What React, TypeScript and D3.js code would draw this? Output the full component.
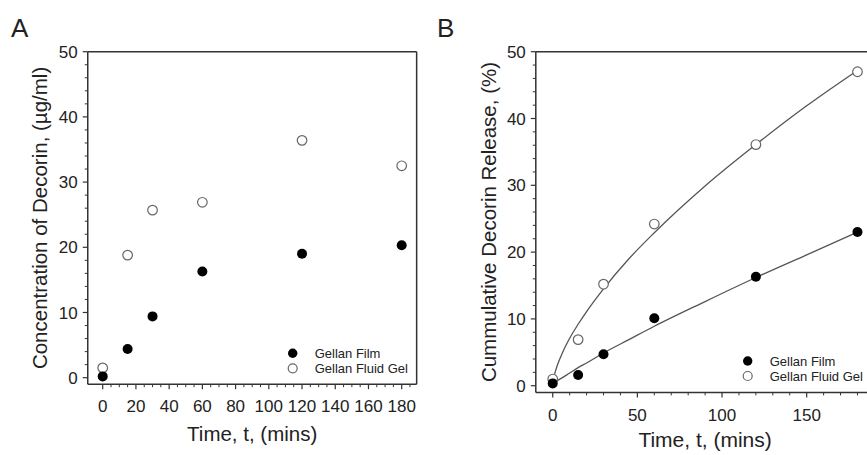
import React from "react";
import * as d3 from "d3";

// ---- Data ----
const timesA = [0, 15, 30, 60, 120, 180];
const filmConcA = [0.2, 4.4, 9.4, 16.3, 19.0, 20.3];
const gelConcA = [1.5, 18.8, 25.7, 26.9, 36.4, 32.5];

const timesB = [0, 15, 30, 60, 120, 180];
const filmRelB = [0.35, 1.6, 4.7, 10.1, 16.3, 23.0];
const gelRelB = [1.0, 6.9, 15.2, 24.2, 36.1, 47.0];

// fitted curves
const fitTimes = [0, 1, 2, 5, 10, 15, 20, 30, 45, 60, 90, 120, 150, 180];
const fitFilm = [0.3, 0.5, 0.65, 1.1, 1.9, 2.7, 3.4, 4.9, 6.9, 8.9, 12.6, 16.2, 19.6, 23.0];
const fitGel = [0.3, 1.6, 2.5, 4.5, 7.1, 9.2, 11.1, 14.5, 19.0, 22.9, 29.9, 36.1, 41.9, 47.2];

const xTicksA = [0, 20, 40, 60, 80, 100, 120, 140, 160, 180];
const xTicksB = [0, 50, 100, 150];
const yTicks = [0, 10, 20, 30, 40, 50];
const legendLabels = ["Gellan Film", "Gellan Fluid Gel"];

const FONT = "'Liberation Sans', Arial, Helvetica, sans-serif";
const TXT = "#222";
const AX = "#333";

type PanelProps = {
  letter: string;
  letterX: number;
  xDomain: [number, number];
  xRange: [number, number];
  yRange: [number, number];
  xTicks: number[];
  xMinorStep: number;
  xMinorMax: number;
  times: number[];
  film: number[];
  gel: number[];
  yTitle: string;
  yTitleX: number;
  xTitleY: number;
  xTitleSize: number;
  xLabelY: number;
  legendX: number;
  legendY: number;
  fit?: boolean;
  rightBorder: boolean;
};

function Panel(p: PanelProps) {
  const x = d3.scaleLinear().domain(p.xDomain).range(p.xRange);
  const y = d3.scaleLinear().domain([-1, 50]).range(p.yRange);
  const [x0, x1] = p.xRange;
  const [yb, yt] = p.yRange;
  const yMinor = d3.range(0, 50.001, 2).filter((v) => v % 10 !== 0);
  const xMinor = d3
    .range(0, p.xMinorMax + 0.001, p.xMinorStep)
    .filter((v) => !p.xTicks.includes(v));
  const line = d3
    .line<number>()
    .x((_, i) => x(fitTimes[i]))
    .y((d) => y(d))
    .curve(d3.curveMonotoneX);
  const cx = (x0 + x1) / 2;
  const cy = (yb + yt) / 2;
  return (
    <g fontFamily={FONT} fill={TXT}>
      <text x={p.letterX} y={37} fontSize={26}>
        {p.letter}
      </text>
      {/* frame */}
      <line x1={x0} x2={x0} y1={yt} y2={yb} stroke={AX} strokeWidth={1.5} />
      <line x1={x0} x2={x1} y1={yb} y2={yb} stroke={AX} strokeWidth={1.5} />
      <line x1={x0} x2={x1} y1={yt} y2={yt} stroke={AX} strokeWidth={1.5} />
      {p.rightBorder && (
        <line x1={x1} x2={x1} y1={yt} y2={yb} stroke={AX} strokeWidth={1.5} />
      )}
      {/* y ticks */}
      {yTicks.map((t) => (
        <g key={"y" + t}>
          <line x1={x0 - 5} x2={x0} y1={y(t)} y2={y(t)} stroke={AX} strokeWidth={1.2} />
          <text x={x0 - 10} y={y(t)} dy="0.36em" textAnchor="end" fontSize={17}>
            {t}
          </text>
        </g>
      ))}
      {yMinor.map((t) => (
        <line key={"ym" + t} x1={x0 - 3} x2={x0} y1={y(t)} y2={y(t)} stroke={AX} strokeWidth={1} />
      ))}
      {/* x ticks */}
      {p.xTicks.map((t) => (
        <g key={"x" + t}>
          <line x1={x(t)} x2={x(t)} y1={yb} y2={yb + 5} stroke={AX} strokeWidth={1.2} />
          <text x={x(t)} y={p.xLabelY} textAnchor="middle" fontSize={17}>
            {t}
          </text>
        </g>
      ))}
      {xMinor.map((t) => (
        <line key={"xm" + t} x1={x(t)} x2={x(t)} y1={yb} y2={yb + 3} stroke={AX} strokeWidth={1} />
      ))}
      {/* titles */}
      <text x={cx} y={p.xTitleY} textAnchor="middle" fontSize={p.xTitleSize}>
        Time, t, (mins)
      </text>
      <text
        transform={`translate(${p.yTitleX},${cy}) rotate(-90)`}
        textAnchor="middle"
        fontSize={20.5}
      >
        {p.yTitle}
      </text>
      {/* fits */}
      {p.fit && (
        <>
          <path d={line(fitGel) || ""} fill="none" stroke="#555" strokeWidth={1.3} />
          <path d={line(fitFilm) || ""} fill="none" stroke="#555" strokeWidth={1.3} />
        </>
      )}
      {/* points */}
      {p.times.map((t, i) => (
        <circle key={"g" + i} cx={x(t)} cy={y(p.gel[i])} r={4.8} fill="#fff" stroke="#666" strokeWidth={1.2} />
      ))}
      {p.times.map((t, i) => (
        <circle key={"f" + i} cx={x(t)} cy={y(p.film[i])} r={5} fill="#000" />
      ))}
      {/* legend */}
      <circle cx={p.legendX} cy={p.legendY} r={4.7} fill="#000" />
      <circle cx={p.legendX} cy={p.legendY + 15} r={4.5} fill="#fff" stroke="#666" strokeWidth={1.2} />
      <text x={p.legendX + 22} y={p.legendY} dy="0.36em" fontSize={13}>
        {legendLabels[0]}
      </text>
      <text x={p.legendX + 22} y={p.legendY + 15} dy="0.36em" fontSize={13}>
        {legendLabels[1]}
      </text>
    </g>
  );
}

export default function App() {
  return (
    <svg
      width={867}
      height={455}
      style={{ position: "absolute", left: 0, top: 0, background: "#fff" }}
    >
      <rect width={867} height={455} fill="#fff" />
      <Panel
        letter="A"
        letterX={11}
        xDomain={[-9, 189]}
        xRange={[87.75, 416.65]}
        yRange={[384.2, 51.7]}
        xTicks={xTicksA}
        xMinorStep={5}
        xMinorMax={185}
        times={timesA}
        film={filmConcA}
        gel={gelConcA}
        yTitle="Concentration of Decorin, (µg/ml)"
        yTitleX={46.5}
        xTitleY={440.5}
        xTitleSize={20.5}
        xLabelY={411.5}
        legendX={292.7}
        legendY={353.3}
        rightBorder={true}
      />
      <Panel
        letter="B"
        letterX={437}
        xDomain={[-10, 190]}
        xRange={[535.8, 874.4]}
        yRange={[392.4, 51.7]}
        xTicks={xTicksB}
        xMinorStep={10}
        xMinorMax={190}
        times={timesB}
        film={filmRelB}
        gel={gelRelB}
        yTitle="Cummulative Decorin Release, (%)"
        yTitleX={496}
        xTitleY={446.5}
        xTitleSize={21}
        xLabelY={420.5}
        legendX={747.7}
        legendY={361}
        fit={true}
        rightBorder={true}
      />
    </svg>
  );
}
